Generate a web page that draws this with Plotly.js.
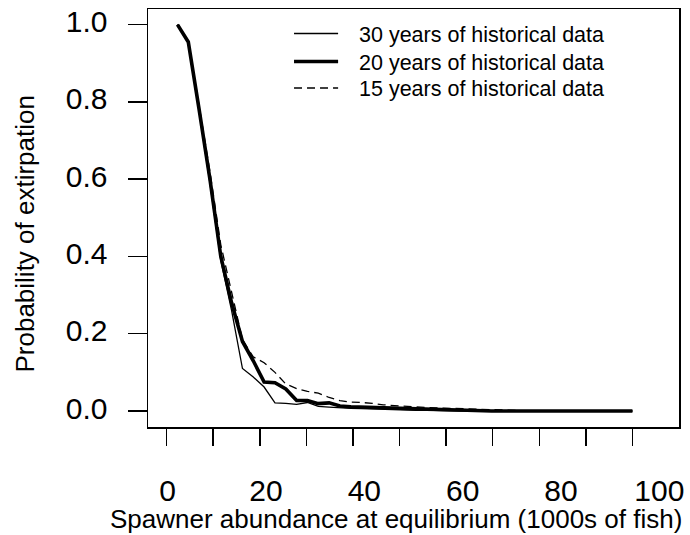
<!DOCTYPE html>
<html>
<head>
<meta charset="utf-8">
<script src="https://cdn.plot.ly/plotly-3.0.1.min.js"></script>
<style>html,body{margin:0;padding:0;background:#fff;}#chart{width:690px;height:535px;}</style>
</head>
<body>
<div id="chart"></div>
<script>
// Spawner abundance at equilibrium (1000s of fish)
const abundance = [2.33, 4.65, 6.98, 9.30, 11.63, 13.95, 16.28, 18.60, 20.93, 23.26,
  25.58, 27.91, 30.23, 32.56, 34.88, 37.21, 39.53, 41.86, 44.19, 46.51,
  48.84, 51.16, 53.49, 55.81, 58.14, 60.47, 62.79, 65.12, 67.44, 69.77,
  72.09, 74.42, 76.74, 79.07, 81.40, 83.72, 86.05, 88.37, 90.70, 93.02,
  95.35, 97.67, 100.00];

const years30 = [1.000, 0.955, 0.775, 0.590, 0.390, 0.260, 0.110, 0.088, 0.062, 0.021,
  0.020, 0.017, 0.022, 0.012, 0.010, 0.008, 0.007, 0.006, 0.005, 0.004,
  0.004, 0.003, 0.002, 0.002, 0.001, 0.000, 0.000, 0.000, 0.000, 0.000,
  0.000, 0.000, 0.000, 0.000, 0.000, 0.000, 0.000, 0.000, 0.000, 0.000,
  0.000, 0.000, 0.000];

const years20 = [1.000, 0.955, 0.780, 0.600, 0.400, 0.280, 0.180, 0.130, 0.075, 0.073,
  0.057, 0.027, 0.027, 0.019, 0.021, 0.013, 0.011, 0.010, 0.009, 0.008,
  0.007, 0.006, 0.006, 0.005, 0.004, 0.003, 0.002, 0.002, 0.001, 0.000,
  0.000, 0.000, 0.000, 0.000, 0.000, 0.000, 0.000, 0.000, 0.000, 0.000,
  0.000, 0.000, 0.000];

const years15 = [1.000, 0.955, 0.790, 0.620, 0.430, 0.310, 0.185, 0.140, 0.125, 0.100,
  0.070, 0.058, 0.051, 0.046, 0.035, 0.027, 0.023, 0.022, 0.020, 0.016,
  0.014, 0.012, 0.010, 0.009, 0.008, 0.007, 0.006, 0.006, 0.005, 0.003,
  0.002, 0.001, 0.000, 0.000, 0.000, 0.000, 0.000, 0.000, 0.000, 0.000,
  0.000, 0.000, 0.000];

const seriesNames = ['30 years of historical data', '20 years of historical data', '15 years of historical data'];
const xTickMarks = [0, 10, 20, 30, 40, 50, 60, 70, 80, 90, 100];
const xTickLabels = [0, 20, 40, 60, 80, 100];
const yTickVals = [0, 0.2, 0.4, 0.6, 0.8, 1.0];
const yTickText = ['0.0', '0.2', '0.4', '0.6', '0.8', '1.0'];

const FONT = 'Liberation Sans, Arial, Helvetica, sans-serif';
const lineStyles = [
  {color: '#000', width: 1.3},
  {color: '#000', width: 3.6},
  {color: '#000', width: 1.3, dash: '8px,5px'}
];
const seriesValues = [years30, years20, years15];

const traces = seriesValues.map((vals, i) => ({
  x: abundance, y: vals, name: seriesNames[i], type: 'scatter', mode: 'lines',
  line: lineStyles[i], showlegend: false
}));
// invisible trace carrying the label axis
traces.push({x: xTickLabels, y: xTickLabels.map(() => null), xaxis: 'x2', yaxis: 'y',
  type: 'scatter', mode: 'lines', showlegend: false, hoverinfo: 'skip'});

// manual legend (top right, inside the frame)
const legendRowsY = [0.9414, 0.8744, 0.8110];
const shapes = legendRowsY.map((yy, i) => ({
  type: 'line', xref: 'paper', yref: 'paper', x0: 0.275, x1: 0.358, y0: yy, y1: yy,
  line: lineStyles[i]
}));
const legendTexts = legendRowsY.map((yy, i) => ({
  text: seriesNames[i], xref: 'paper', yref: 'paper', x: 0.393, y: yy - 0.003,
  xanchor: 'left', yanchor: 'middle', showarrow: false,
  font: {family: FONT, size: 21.5, color: '#000'}
}));

const layout = {
  width: 690, height: 535,
  margin: {l: 148, r: 11, t: 9, b: 108, pad: 0},
  paper_bgcolor: '#fff', plot_bgcolor: '#fff',
  font: {family: FONT, color: '#000'},
  showlegend: false,
  xaxis: {
    range: [-4, 110], showgrid: false, zeroline: false,
    showline: true, mirror: true, linecolor: '#000', linewidth: 1.5,
    tickmode: 'array', tickvals: xTickMarks, ticks: 'outside', ticklen: 17,
    tickwidth: 1.5, tickcolor: '#000', showticklabels: false
  },
  xaxis2: {
    overlaying: 'x', side: 'bottom', range: [-4, 104],
    showgrid: false, zeroline: false, showline: false,
    tickmode: 'array', tickvals: xTickLabels, ticktext: xTickLabels.map(String),
    ticks: '', ticklabelstandoff: 43,
    tickfont: {family: FONT, size: 30, color: '#000'}
  },
  yaxis: {
    range: [-0.0414, 1.0404], showgrid: false, zeroline: false,
    showline: true, mirror: true, linecolor: '#000', linewidth: 1.5,
    tickmode: 'array', tickvals: yTickVals, ticktext: yTickText,
    ticks: 'outside', ticklen: 19, tickwidth: 1.5, tickcolor: '#000',
    ticklabelstandoff: 14, ticklabelshift: -3,
    tickfont: {family: FONT, size: 30, color: '#000'}
  },
  shapes: shapes,
  annotations: [
    {text: 'Spawner abundance at equilibrium (1000s of fish)', xref: 'paper', yref: 'paper',
     x: 0.467, y: -0.22, xanchor: 'center', yanchor: 'middle', showarrow: false,
     font: {family: FONT, size: 26, color: '#000'}},
    {text: 'Probability of extirpation', xref: 'paper', yref: 'paper',
     x: -0.2335, y: 0.4605, xanchor: 'center', yanchor: 'middle', showarrow: false,
     textangle: -90, font: {family: FONT, size: 26, color: '#000'}}
  ].concat(legendTexts)
};

Plotly.newPlot('chart', traces, layout, {displayModeBar: false, staticPlot: true});
</script>
</body>
</html>
